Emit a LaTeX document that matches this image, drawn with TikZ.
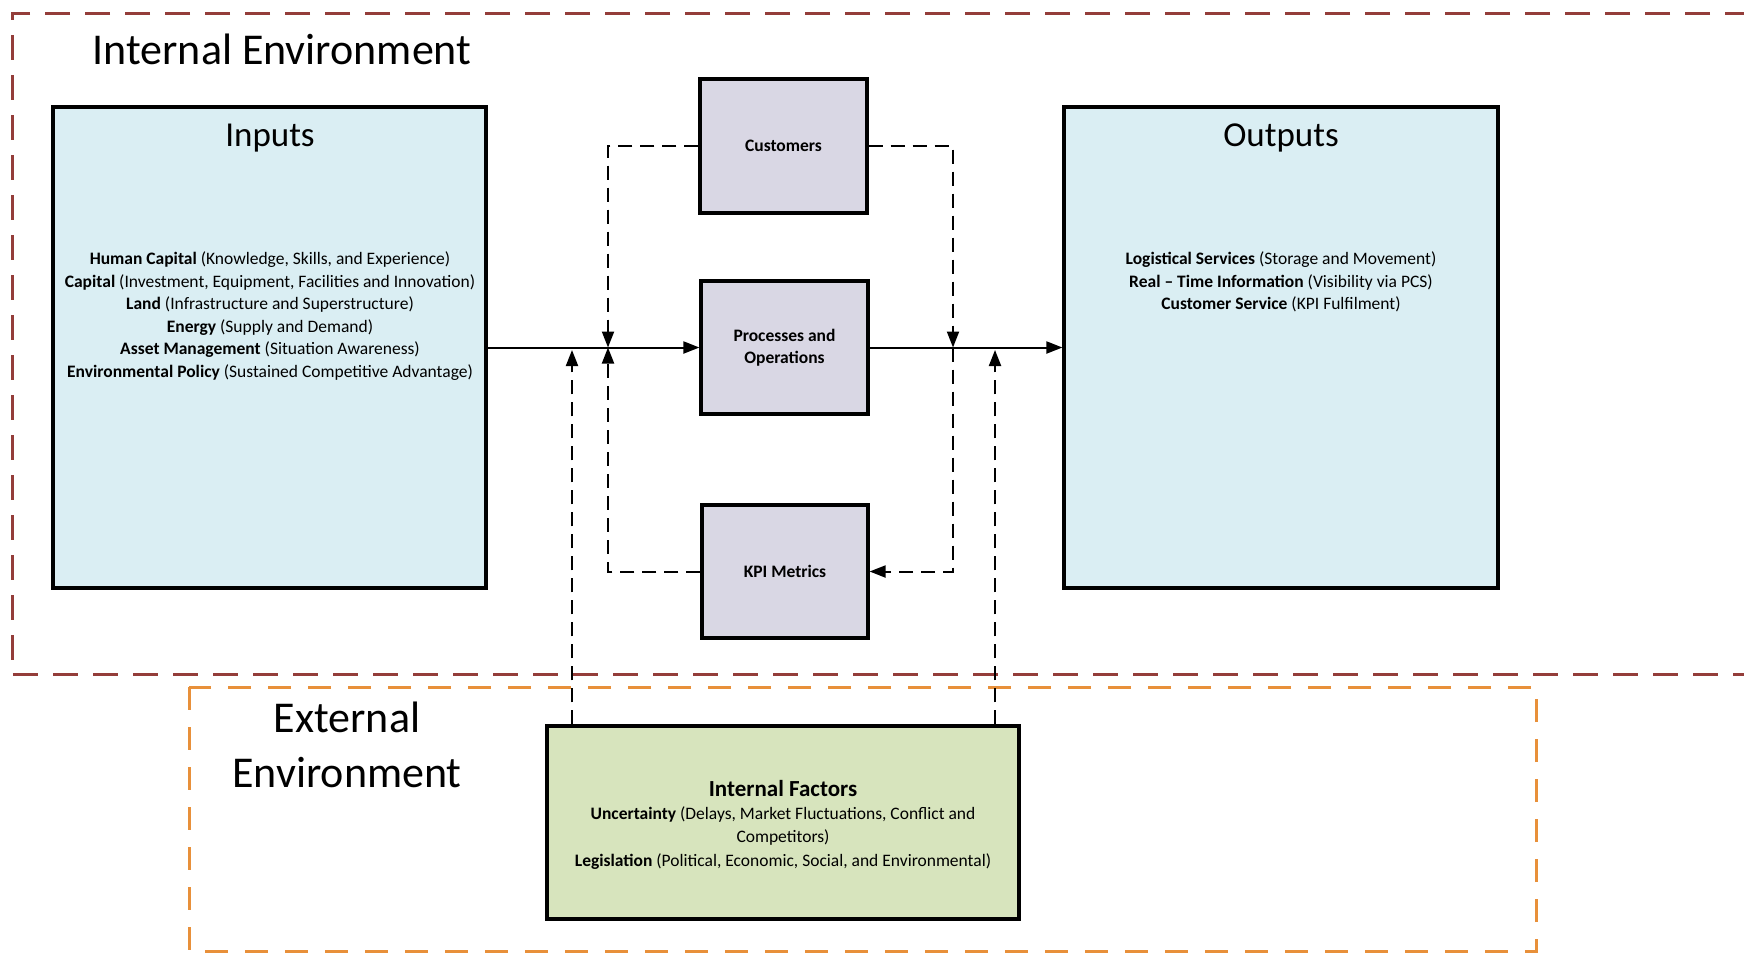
\documentclass[tikz,border=0pt]{standalone}
\usepackage{fontspec}
\setmainfont{Carlito}
\usetikzlibrary{arrows.meta}
\definecolor{ioblue}{HTML}{DAEEF3}
\definecolor{procfill}{HTML}{D9D7E4}
\definecolor{factfill}{HTML}{D7E4BD}
\definecolor{intred}{HTML}{943D3A}
\definecolor{extorange}{HTML}{E8903A}
\begin{document}
\begin{tikzpicture}[x=1pt,y=-1pt,
  box/.style={draw=black,line width=3.2pt,inner sep=0pt},
  iobox/.style={box,fill=ioblue},
  procbox/.style={box,fill=procfill,font=\fontsize{17.5}{21.5}\selectfont\bfseries,align=center},
  factbox/.style={box,fill=factfill},
  body/.style={align=center,font=\fontsize{17.5}{22.6}\selectfont,inner sep=0pt},
  bigtitle/.style={align=center,font=\fontsize{44}{55}\selectfont,inner sep=0pt},
  boxtitle/.style={font=\fontsize{35}{40}\selectfont,inner sep=0pt},
  flow/.style={line width=2pt,-{Triangle[length=16pt,width=12pt]}},
  dflow/.style={flow,dash pattern=on 14pt off 8pt},
  envline/.style={line width=3pt,dash pattern=on 25pt off 15pt}]
\useasboundingbox (0,0) rectangle (1744,954);

% environment frames
\draw[envline,intred] (1790,13) -- (12,13) -- (12,674) -- (1790,674);
\draw[envline,extorange,dash pattern=on 23pt off 17pt] (189,687) rectangle (1536,951);
\node[bigtitle] (intenv) at (282,49) {Internal Environment};
\node[bigtitle] (extenv) at (347,745) {External\\Environment};

% main blocks
\node[iobox,minimum width=433pt,minimum height=481pt] (inputs) at (269.5,347.5) {};
\node[iobox,minimum width=434pt,minimum height=481pt] (outputs) at (1281,347.5) {};
\node[boxtitle] (intitle) at (270,138) {Inputs};
\node[boxtitle] (outtitle) at (1281,138) {Outputs};
\node[body] (intext) at (270,316) {\textbf{Human Capital} (Knowledge, Skills, and Experience)\\
  \textbf{Capital} (Investment, Equipment, Facilities and Innovation)\\
  \textbf{Land} (Infrastructure and Superstructure)\\
  \textbf{Energy} (Supply and Demand)\\
  \textbf{Asset Management} (Situation Awareness)\\
  \textbf{Environmental Policy} (Sustained Competitive Advantage)};
\node[body] (outtext) at (1281,282) {\textbf{Logistical Services} (Storage and Movement)\\
  \textbf{Real -- Time Information} (Visibility via PCS)\\
  \textbf{Customer Service} (KPI Fulfilment)};

\node[procbox,minimum width=167pt,minimum height=134pt] (cust) at (783.5,146) {Customers};
\node[procbox,minimum width=167pt,minimum height=133pt] (proc) at (784.5,347.5) {Processes and\\Operations};
\node[procbox,minimum width=166pt,minimum height=133pt] (kpi) at (785,571.5) {KPI Metrics};

\node[factbox,minimum width=472pt,minimum height=193pt] (fact) at (783,822.5) {};
\node[inner sep=0pt,font=\fontsize{23}{27}\selectfont\bfseries] (facttitle) at (783,788) {Internal Factors};
\node[body,font=\fontsize{17.5}{23.5}\selectfont] (facttext) at (783,838) {\textbf{Uncertainty} (Delays, Market Fluctuations, Conflict and\\
  Competitors)\\
  \textbf{Legislation} (Political, Economic, Social, and Environmental)};

% junction points on the main flow line
\coordinate (jl) at (608,347.5);
\coordinate (jr) at (953,347.5);
\coordinate (xl) at (572,350);
\coordinate (xr) at (995,350);

% main flow
\draw[flow] (inputs.east) -- (proc.west);
\draw[flow] (proc.east) -- (outputs.west);

% feedback loops
\draw[dflow] (cust.west) -| (jl);
\draw[dflow] (cust.east) -| (jr);
\draw[dflow] (kpi.west) -| (jl);
\draw[dflow] (jr) |- (kpi.east);

% external influences
\draw[dflow] (fact.north -| xl) -- (xl);
\draw[dflow] (fact.north -| xr) -- (xr);
\end{tikzpicture}
\end{document}
